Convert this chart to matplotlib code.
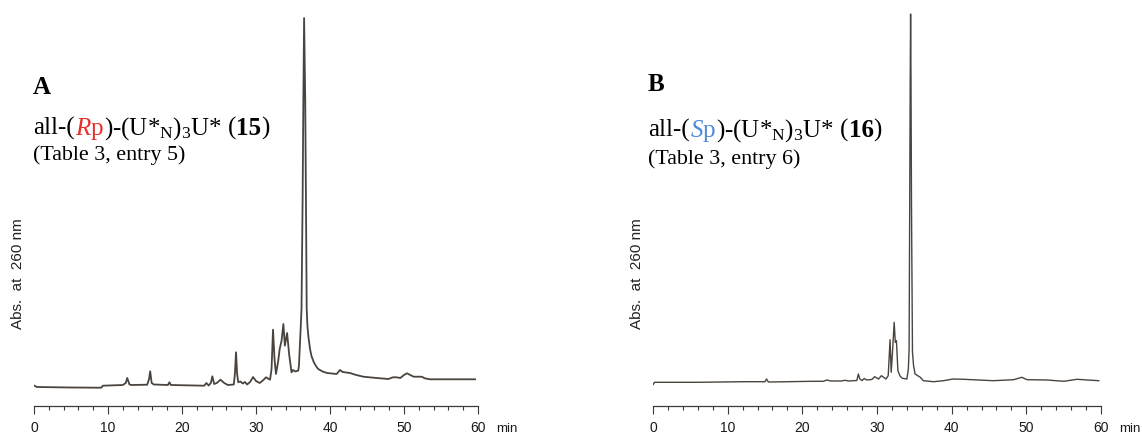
import matplotlib
matplotlib.use("Agg")
import matplotlib.pyplot as plt

plt.rcParams['mathtext.fontset'] = 'custom'
plt.rcParams['mathtext.rm'] = 'Liberation Serif'
plt.rcParams['mathtext.it'] = 'Liberation Serif:italic'
plt.rcParams['mathtext.bf'] = 'Liberation Serif:bold'

# HPLC traces: (retention time in min, absorbance, arbitrary units)
trace_a = [(0.0, 20.5), (0.4, 19), (5.0, 18.5), (9.1, 18.3), (9.3, 20.3), (12.0, 21), (12.4, 23),
           (12.6, 28), (12.9, 21.5), (13.2, 21), (15.3, 21.3), (15.55, 27), (15.7, 34.7), (15.9, 23),
           (16.2, 21.5), (18.1, 21), (18.3, 23.7), (18.5, 21), (23.0, 20.3), (23.3, 23), (23.6, 20.5),
           (23.9, 23), (24.1, 29.7), (24.35, 22), (24.7, 23), (25.2, 26.3), (25.7, 23), (26.2, 21),
           (27.0, 21.5), (27.15, 32), (27.3, 53.7), (27.45, 32), (27.6, 23.7), (27.9, 24.5), (28.2, 22.5),
           (28.5, 24), (28.8, 21.5), (29.2, 24), (29.6, 29), (30.0, 25), (30.5, 23), (31.0, 26),
           (31.35, 28.7), (31.9, 26.3), (32.1, 37), (32.3, 76.3), (32.5, 47), (32.7, 32), (33.0, 45),
           (33.2, 57), (33.45, 65), (33.7, 82), (33.9, 60.3), (34.2, 73), (34.5, 50.3), (34.8, 33.7),
           (35.0, 36), (35.3, 34.5), (35.7, 35.3), (35.8, 40), (35.95, 64), (36.05, 80), (36.15, 97),
           (36.3, 207), (36.4, 307), (36.5, 388), (36.65, 307), (36.75, 207), (36.85, 97), (36.95, 80),
           (37.07, 70), (37.3, 57), (37.5, 50), (37.8, 44), (38.1, 40), (38.4, 37), (39.0, 34.5),
           (39.6, 33), (40.9, 32), (41.35, 36), (41.7, 34), (42.7, 33),
           (43.4, 31.3), (44.5, 29.3), (46.3, 28), (47.9, 27), (48.5, 28.7), (49.0, 28.7), (49.5, 28),
           (50.0, 31), (50.4, 32.7), (51.3, 29.3), (52.4, 29.3), (52.8, 27.7), (53.5, 26.7), (59.6, 26.7)]

trace_b = [(0.0, 21.3), (0.2, 23.7), (6.0, 23.7), (12.3, 24.3), (15.0, 24.3), (15.2, 27), (15.45, 24),
           (18.1, 24.3), (21.3, 24.7), (22.8, 24.7), (23.3, 26), (23.8, 25), (25.2, 25), (25.7, 25.7),
           (26.2, 25), (27.3, 25.5), (27.5, 32), (27.7, 27), (28.0, 25.5), (28.3, 27.5), (28.6, 26),
           (29.3, 26.5), (29.7, 29.3), (30.2, 27), (30.6, 30.3), (31.2, 27), (31.5, 30.3), (31.75, 66.3),
           (31.9, 33.7), (32.1, 57), (32.3, 83.7), (32.45, 63.7), (32.6, 65.3), (32.8, 35.3), (33.1, 29.7),
           (33.4, 27.7), (34.0, 27), (34.2, 37), (34.3, 57), (34.38, 200), (34.45, 330), (34.5, 392),
           (34.55, 330), (34.62, 200), (34.75, 54), (34.9, 40), (35.1, 32), (35.8, 28.7), (36.2, 25.3),
           (37.6, 24.3), (38.9, 25.3), (40.2, 27), (41.6, 26.7), (45.6, 25.3), (48.3, 26.3), (49.4, 28.7),
           (50.1, 26.3), (52.8, 26), (55.0, 24.7), (56.8, 26.7), (58.2, 26), (59.7, 25.3)]

panel_letters = ['A', 'B']
configs = [r'$\mathit{R}$p', r'$\mathit{S}$p']
config_colors = ['#e8302a', '#4f8ad8']
compound_nums = ['15', '16']
entry_labels = ['(Table 3, entry 5)', '(Table 3, entry 6)']
x_major = [0, 10, 20, 30, 40, 50, 60]
x_minor = list(range(0, 61, 2))

W, H = 1142, 435
fig = plt.figure(figsize=(W / 100, H / 100), dpi=100)
fig.patch.set_facecolor('white')

line_col = '#4b443e'
axis_col = '#3a3a3a'

ax_a = fig.add_axes([34 / W, 28 / H, 444 / W, 402 / H])
ax_b = fig.add_axes([653 / W, 28 / H, 448 / W, 402 / H])

for ax, trace, lw in [(ax_a, trace_a, 1.3), (ax_b, trace_b, 1.0)]:
    t = [p[0] for p in trace]
    a = [p[1] for p in trace]
    ax.plot(t, a, color=line_col, lw=lw, solid_joinstyle='round')
    ax.set_xlim(0, 60)
    ax.set_ylim(0, 402)
    for s in ['top', 'right', 'left']:
        ax.spines[s].set_visible(False)
    ax.spines['bottom'].set_color(axis_col)
    ax.spines['bottom'].set_linewidth(0.9)
    ax.set_yticks([])
    ax.set_xticks(x_major)
    ax.set_xticks(x_minor, minor=True)
    ax.tick_params(axis='x', which='major', length=5.5, width=0.8, color=axis_col, pad=4.5,
                   labelsize=10, labelcolor='#1a1a1a')
    ax.tick_params(axis='x', which='minor', length=3.2, width=0.8, color=axis_col)
    for lab in ax.get_xticklabels():
        lab.set_family('Liberation Sans')
    ax.annotate('min', xy=(1, 0), xycoords='axes fraction', xytext=(13, -15.5),
                textcoords='offset points', ha='left', va='center', fontsize=9.5,
                family='Liberation Sans', color='#1a1a1a')
    ax.text(-0.035, 0.331, 'Abs.  at  260 nm', transform=ax.transAxes, rotation=90,
            ha='center', va='center', fontsize=11, family='Liberation Sans', color='#222222')
    ax.patch.set_alpha(0)

renderer = fig.canvas.get_renderer()


def put_runs(x_px, y_px, runs, size):
    # draw pieces of differently styled text one after another on one baseline
    for s, color, weight in runs:
        if s == ' ':
            x_px += size * 0.25 * 100 / 72
            continue
        txt = fig.text(x_px / W, 1 - y_px / H, s, fontsize=size, color=color, fontweight=weight,
                       family='Liberation Serif', ha='left', va='baseline')
        x_px += txt.get_window_extent(renderer).width


text_pos = [(33, 94, 135, 160), (648, 91, 137, 164)]
for i in range(2):
    x0, y_let, y_main, y_sub = text_pos[i]
    fig.text(x0 / W, 1 - y_let / H, panel_letters[i], fontsize=18, fontweight='bold',
             family='Liberation Serif', ha='left', va='baseline')
    put_runs(x0, y_main, [('all-(', 'black', 'normal'),
                          (configs[i], config_colors[i], 'normal'),
                          (r')-(U*$_{\mathrm{N}}$)$_{3}$U*', 'black', 'normal'),
                          (' ', None, None),
                          ('(', 'black', 'normal'),
                          (compound_nums[i], 'black', 'bold'),
                          (')', 'black', 'normal')], 18)
    fig.text(x0 / W, 1 - y_sub / H, entry_labels[i], fontsize=15.8,
             family='Liberation Serif', ha='left', va='baseline')

fig.savefig('out.png', dpi=100, facecolor='white')
